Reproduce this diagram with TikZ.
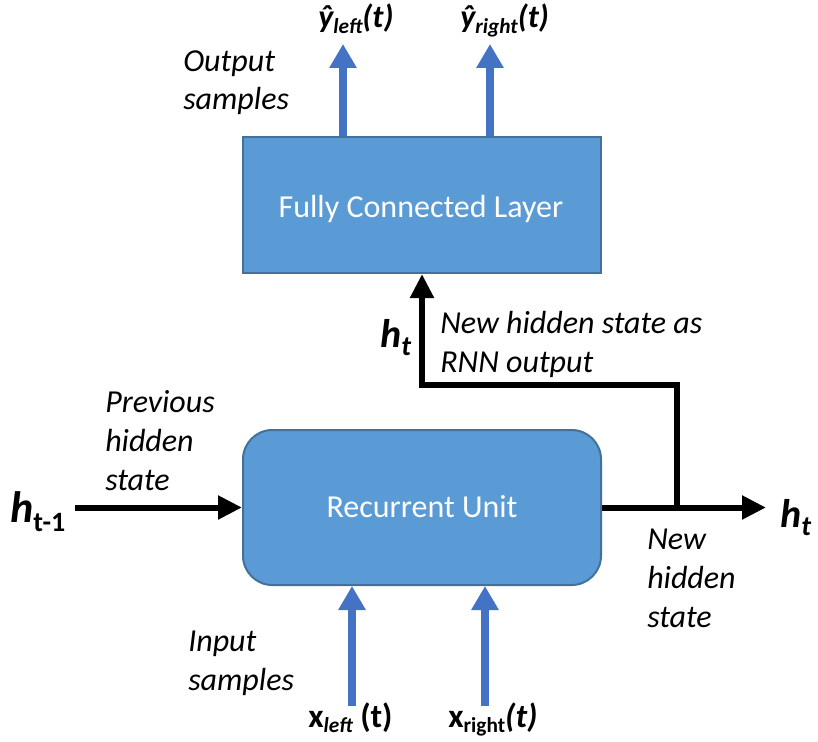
\documentclass[tikz,border=0pt]{standalone}
\usepackage{fontspec}
\setmainfont{Carlito}
\usetikzlibrary{arrows.meta}
\definecolor{boxfill}{HTML}{5B9BD5}
\definecolor{boxline}{HTML}{41719C}
\definecolor{arrowblue}{HTML}{4472C4}
\tikzset{
  boxstyle/.style={draw=boxline, line width=1.5pt, fill=boxfill, inner sep=0pt},
  boxtext/.style={text=white, font=\fontsize{24}{28}\selectfont, inner sep=0pt, anchor=base},
  bluearrow/.style={draw=arrowblue, line width=6pt, -{Triangle[width=19.5pt,length=18pt]}},
  blackarrow/.style={draw=black, line width=4.5pt, -{Triangle[width=17pt,length=18pt]}},
  note/.style={font=\itshape\fontsize{24}{29}\selectfont, align=left, anchor=base west, inner sep=0pt},
  biglab/.style={font=\bfseries\itshape\fontsize{30}{32}\selectfont, inner sep=0pt, anchor=base west},
  smlab/.style={font=\bfseries\itshape\fontsize{24}{26}\selectfont, inner sep=0pt, anchor=base west}
}
\newcommand{\mysub}[1]{\raisebox{-0.35ex}{\fontsize{16}{18}\selectfont #1}}
\newcommand{\bigsub}[1]{\raisebox{-0.45ex}{\fontsize{21}{22}\selectfont #1}}
\begin{document}
\begin{tikzpicture}[x=0.75pt,y=-0.75pt]
\useasboundingbox (0,0) rectangle (818,742);
% boxes
\node[boxstyle, minimum width=358*0.75pt, minimum height=136*0.75pt] (fc) at (422,205) {};
\node[boxtext] (fct) at (421,217) {Fully Connected Layer};
\node[boxstyle, rounded corners=22pt, minimum width=358*0.75pt, minimum height=155*0.75pt] (ru) at (422,507.5) {};
\node[boxtext] (rut) at (422,517) {Recurrent Unit};
% output arrows
\coordinate (y1) at (343,44);
\coordinate (y2) at (490,44);
\draw[bluearrow] (fc.north -| y1) -- (y1);
\draw[bluearrow] (fc.north -| y2) -- (y2);
\node[smlab] (ly1) at (318,28) {ŷ\mysub{left}(t)};
\node[smlab] (ly2) at (460,28) {ŷ\mysub{right}(t)};
\node[note] (os) at (183,110) {Output\\samples};
% input arrows
\coordinate (x1) at (352,706);
\coordinate (x2) at (485,706);
\draw[bluearrow] (x1) -- (ru.south -| x1);
\draw[bluearrow] (x2) -- (ru.south -| x2);
\node[smlab, font=\bfseries\itshape\fontsize{25}{27}\selectfont] (lx1) at (308,727) {\upshape x\mysub{\itshape left} (t)};
\node[smlab, font=\bfseries\itshape\fontsize{25}{27}\selectfont] (lx2) at (448,727) {\upshape x\mysub{right}{\itshape(t)}};
\node[note] (is) at (188,690) {Input\\samples};
% hidden state in
\node[biglab, font=\bfseries\itshape\fontsize{33}{34}\selectfont] (hin) at (10,522) {h\bigsub{\upshape t-1}};
\coordinate (hs) at (75,507.5);
\draw[blackarrow] (hs) -- (ru.west);
\node[note] (ph) at (105,490) {Previous\\hidden\\state};
% hidden state out
\node[biglab] (hout) at (780,527) {h\bigsub{t}};
\coordinate (oe) at (766,507.5);
\draw[blackarrow] (ru.east) -- (oe);
\coordinate (br) at (677,507.5);
\coordinate (tr) at (677,385);
\coordinate (tl) at (422,385);
\draw[line width=4.5pt, -{Triangle[width=17pt,length=18pt]}, line join=miter] (br) -- (tr) -- (tl) -- (fc.south);
\node[biglab] (hmid) at (380,347) {h\bigsub{t}};
\node[note] (nh) at (440,372) {New hidden state as\\RNN output};
\node[note] (nh2) at (647,627) {New\\hidden\\state};
\end{tikzpicture}
\end{document}
